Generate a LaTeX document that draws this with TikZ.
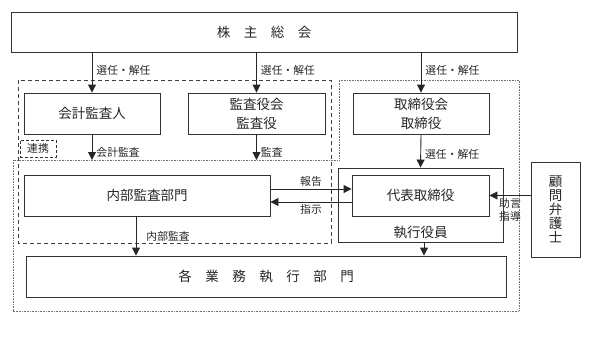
\documentclass[tikz,border=0pt]{standalone}
\usepackage{fontspec}
\setmainfont{Noto Sans CJK JP}
\usetikzlibrary{arrows.meta, positioning}
\tikzstyle{arrow} = [line width=0.9pt, draw=black!85, -{Triangle[width=8pt,length=8pt]}]

\begin{document}
\begin{tikzpicture}[x=1pt, y=-1pt, font=\fontsize{13.5}{19}\selectfont, text=black!85]
        \tikzstyle{box}=[rectangle, draw=black!80, line width=0.9pt, inner sep=0pt, align=center]
        \tikzstyle{lbl}=[font=\fontsize{10.8}{13}\selectfont, inner sep=2pt]
        \tikzstyle{grp}=[draw=black!75, line width=0.9pt, dash pattern=on 4pt off 3pt]
        \tikzstyle{exc}=[draw=black!55, line width=0.8pt, dash pattern=on 0.8pt off 0.8pt]
        \useasboundingbox (0,0) rectangle (601,340);
        \draw[grp] (18,80) rectangle (331,243);
        \draw[exc] (339,80) -- (519,80) -- (519,311) -- (13,311) -- (13,160) -- (339,160) -- cycle;
        \coordinate (execTop) at (0,160);
        \node (soukai) [box, minimum width=506pt, minimum height=40pt] at (264,32) {株\quad 主\quad 総\quad 会};
        \node (kaikei) [box, minimum width=136pt, minimum height=41pt] at (92,113.5) {会計監査人};
        \node (kansa) [box, minimum width=137pt, minimum height=41pt] at (256.5,113.5) {監査役会\\監査役};
        \node (torishimari) [box, minimum width=136pt, minimum height=41pt] at (421,113.5) {取締役会\\取締役};
        \node (renkei) [box, lbl, dash pattern=on 3pt off 2pt, minimum width=36pt, minimum height=17pt] at (38,148.5) {連携};
        \node (naibu) [box, minimum width=246pt, minimum height=41pt] at (147,195.5) {内部監査部門};
        \node (shikko) [box, minimum width=165pt, minimum height=74pt,
                        label={[anchor=south, inner sep=3pt]south:執行役員}] at (420.5,205) {};
        \node (daihyo) [box, fill=white, minimum width=137pt, minimum height=41pt] at (420.5,195.5) {代表取締役};
        \node (kakugyomu) [box, minimum width=480pt, minimum height=41pt] at (266,276.5)
              {各\quad 業\quad 務\quad 執\quad 行\quad 部\quad 門};
        \node (komon) [box, minimum width=49pt, minimum height=95pt, font=\fontsize{13.5}{14}\selectfont]
              at (555.5,209.5) {顧\\問\\弁\\護\\士};
        \draw[arrow] (soukai.south -| kaikei.north) -- (kaikei.north) node[lbl, right, pos=0.45, xshift=2pt] {選任・解任};
        \draw[arrow] (soukai.south -| kansa.north) -- (kansa.north) node[lbl, right, pos=0.45, xshift=2pt] {選任・解任};
        \draw[arrow] (soukai.south -| torishimari.north) -- (torishimari.north) node[lbl, right, pos=0.45, xshift=2pt] {選任・解任};
        \draw[arrow] (kaikei.south) -- (kaikei.south |- execTop) node[lbl, right, pos=0.7, xshift=2pt] {会計監査};
        \draw[arrow] (kansa.south) -- (kansa.south |- execTop) node[lbl, right, pos=0.7, xshift=2pt] {監査};
        \draw[arrow] (torishimari.south) -- (shikko.north) node[lbl, right, pos=0.6, xshift=2pt] {選任・解任};
        \draw[arrow] ([yshift=6.5pt]naibu.east) -- ([yshift=6.5pt]naibu.east -| daihyo.west) node[lbl, above, midway] {報告};
        \draw[arrow] ([yshift=-6.5pt]daihyo.west) -- ([yshift=-6.5pt]daihyo.west -| naibu.east) node[lbl, below, midway] {指示};
        \draw[arrow] ([xshift=-11pt]naibu.south) -- ([xshift=-11pt]naibu.south |- kakugyomu.north)
              node[lbl, right, midway, xshift=8pt] {内部監査};
        \draw[arrow] ([xshift=3.5pt]shikko.south) -- ([xshift=3.5pt]shikko.south |- kakugyomu.north);
        \draw[arrow] (daihyo.east -| komon.west) -- (daihyo.east) node[lbl, below, midway, align=center] {助言\\指導};
    \end{tikzpicture}
\end{document}
